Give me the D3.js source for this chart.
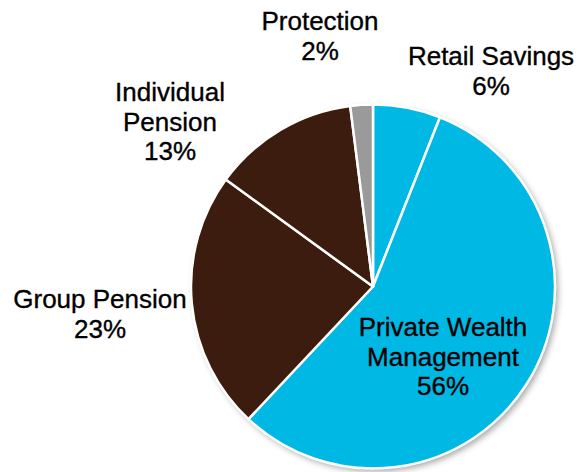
<!DOCTYPE html>
<html>
<head>
<meta charset="utf-8">
<script src="https://cdn.jsdelivr.net/npm/d3@7"></script>
<style>
  html, body { margin: 0; padding: 0; background: #ffffff; }
  svg { display: block; }
  text { font-family: "Liberation Sans", Arial, Helvetica, sans-serif; }
</style>
</head>
<body>
<svg id="chart" width="580" height="472"></svg>
<script>
// Data
const categories = ["Retail Savings", "Private Wealth Management", "Group Pension", "Individual Pension", "Protection"];
const values = [6, 56, 23, 13, 2];
const labelLines = [
  ["Retail Savings"],
  ["Private Wealth", "Management"],
  ["Group Pension"],
  ["Individual", "Pension"],
  ["Protection"]
];

// Styling / layout (kept separate from data)
const colors = ["#00B8E4", "#00B8E4", "#3B1C0E", "#3B1C0E", "#9A9A9A"];
const labelAnchors = [[491, 65], [443, 336], [100, 308], [170, 101], [320, 30]];
const lineHeight = 29.5;
const fontSize = 26;

const svg = d3.select("#chart");
const cx = 373, cy = 286.5, r = 182;

const defs = svg.append("defs");
const f = defs.append("filter").attr("id", "shadow")
  .attr("x", "-20%").attr("y", "-20%").attr("width", "140%").attr("height", "140%");
f.append("feDropShadow").attr("dx", 3).attr("dy", 3).attr("stdDeviation", 3)
  .attr("flood-color", "#000").attr("flood-opacity", 0.35);

const pie = d3.pie().sort(null).value(d => d)(values);
const arc = d3.arc().innerRadius(0).outerRadius(r);

const g = svg.append("g").attr("transform", `translate(${cx},${cy})`);

// shadow disc
g.append("circle").attr("r", r).attr("fill", "#fff").attr("filter", "url(#shadow)");

g.selectAll("path.slice").data(pie).join("path")
  .attr("class", "slice")
  .attr("d", arc)
  .attr("fill", (d, i) => colors[i])
  .attr("stroke", "#ffffff")
  .attr("stroke-width", 2.5)
  .attr("stroke-linejoin", "round");

const labels = svg.append("g");
categories.forEach((c, i) => {
  const [x, y] = labelAnchors[i];
  const lines = labelLines[i].concat([values[i] + "%"]);
  const t = labels.append("text")
    .attr("x", x).attr("y", y)
    .attr("text-anchor", "middle")
    .attr("font-size", fontSize)
    .attr("fill", "#000")
    .attr("stroke", "#000")
    .attr("stroke-width", 0.35);
  lines.forEach((ln, j) => {
    t.append("tspan").attr("x", x).attr("y", y + j * lineHeight).text(ln);
  });
});
</script>
</body>
</html>
